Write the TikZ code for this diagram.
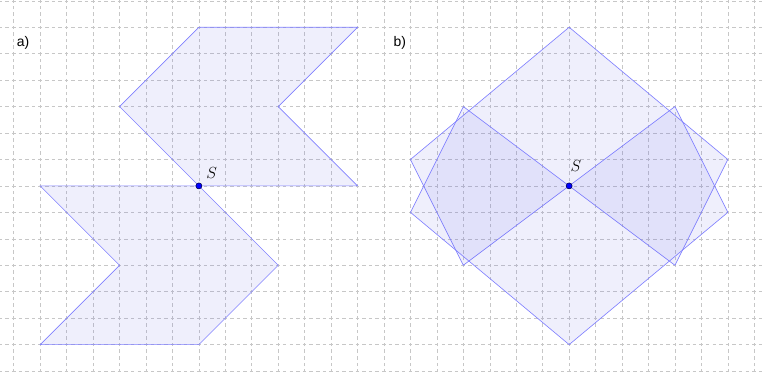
\documentclass[tikz,border=0pt]{standalone}
\usepackage{fontspec}
\setsansfont{Liberation Sans}
\usetikzlibrary{positioning}
\definecolor{figfill}{RGB}{100,100,230}
\tikzset{
  gridln/.style ={line width=0.6pt, black!22, dash pattern=on 3.8pt off 3.31pt, dash phase=1.9pt},
  fig/.style    ={draw=blue!50, line width=0.7pt, fill=figfill, fill opacity=0.10},
  ctr/.style    ={circle, minimum size=6.5pt, inner sep=0pt, draw=blue!30!black, fill=blue, line width=0.6pt},
  plbl/.style   ={font=\fontsize{16}{18}\selectfont, inner sep=1pt},
  tag/.style    ={font=\sffamily\fontsize{15}{17}\selectfont},
}

\begin{document}
\begin{tikzpicture}
  \clip (-7.52,-7.03) rectangle (21.33,7.03);
  % grid
  \foreach \x in {-7,...,21} \draw[gridln] (\x,-8) -- (\x,8);
  \foreach \y in {-7,...,7}  \draw[gridln] (-8,\y) -- (22,\y);

  % LEFT: a)
  \node[tag] (tagA) at (-6.65,5.41) {a)};
  \draw[fig] (0,6) -- (6,6) -- (3,3) -- (6,0) -- (0,0) -- (-3,3) -- cycle;
  \draw[fig] (0,-6) -- (-6,-6) -- (-3,-3) -- (-6,0) -- (0,0) -- (3,-3) -- cycle;
  \node[ctr] (Sa) at (0,0) {};
  \node[plbl] (SaLbl) at (0.48,0.50) {$S$};

  % RIGHT: b)
  \node[tag] (tagB) at (7.6,5.41) {b)};
  \begin{scope}[shift={(14,0)}]
    \draw[fig] (0,6) -- (6,1) -- (4,-3) -- (0,0) -- (-4,-3) -- (-6,1) -- cycle;
    \draw[fig] (0,-6) -- (-6,-1) -- (-4,3) -- (0,0) -- (4,3) -- (6,-1) -- cycle;
    \node[ctr] (Sb) at (0,0) {};
    \node[plbl] (SbLbl) at (0.26,0.76) {$S$};
  \end{scope}
\end{tikzpicture}
\end{document}
